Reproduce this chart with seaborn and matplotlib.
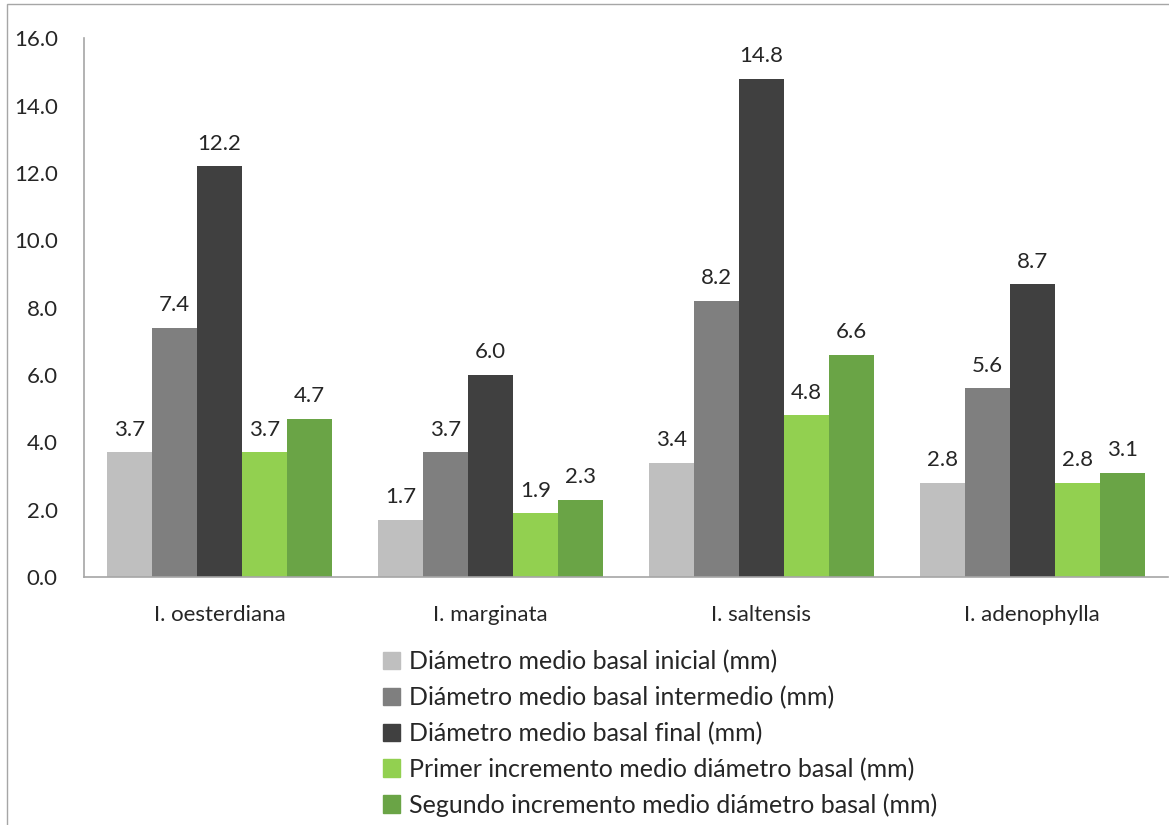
import pandas as pd
import matplotlib.pyplot as plt
import matplotlib.patches as mpatches
import seaborn as sns


# ---------------- DATA ----------------

species = ["I. oesterdiana", "I. marginata", "I. saltensis", "I. adenophylla"]

series_names = [
    "Diámetro medio basal inicial (mm)",
    "Diámetro medio basal intermedio (mm)",
    "Diámetro medio basal final (mm)",
    "Primer incremento medio diámetro basal (mm)",
    "Segundo incremento medio diámetro basal (mm)",
]

diam_inicial = [3.7, 1.7, 3.4, 2.8]
diam_intermedio = [7.4, 3.7, 8.2, 5.6]
diam_final = [12.2, 6.0, 14.8, 8.7]
primer_incremento = [3.7, 1.9, 4.8, 2.8]
segundo_incremento = [4.7, 2.3, 6.6, 3.1]

colors = ["#BFBFBF", "#7F7F7F", "#404040", "#92D050", "#6AA446"]


# ---------------- LONG TABLE ----------------

rows = []
for name, values in zip(series_names, [diam_inicial, diam_intermedio, diam_final,
                                       primer_incremento, segundo_incremento]):
    for sp, v in zip(species, values):
        rows.append({"especie": sp, "serie": name, "valor": v})
df = pd.DataFrame(rows)


# ---------------- PLOT ----------------

sns.set_style("white")
plt.rcParams["font.family"] = ["Lato", "DejaVu Sans"]

FS = 16

fig = plt.figure(figsize=(11.69, 8.25), dpi=100)
ax = fig.add_axes([0.072, 0.3006, 0.927, 0.653])

sns.barplot(data=df, x="especie", y="valor", hue="serie", order=species,
            hue_order=series_names, palette=colors, width=0.83, gap=0,
            saturation=1, ax=ax, legend=False, edgecolor="none")

for container in ax.containers:
    ax.bar_label(container, fmt="%.1f", padding=9, fontsize=FS)

ax.set_ylim(0, 16)
ax.set_yticks([0, 2, 4, 6, 8, 10, 12, 14, 16])
ax.set_yticklabels([f"{t:.1f}" for t in ax.get_yticks()], fontsize=FS)
ax.tick_params(axis="both", length=0, labelsize=FS)
ax.tick_params(axis="y", pad=19)
ax.tick_params(axis="x", pad=20)
ax.set_xlabel("")
ax.set_ylabel("")

for side in ["top", "right"]:
    ax.spines[side].set_visible(False)
for side in ["left", "bottom"]:
    ax.spines[side].set_color("#A6A6A6")
    ax.spines[side].set_linewidth(1.2)

# legend
handles = [mpatches.Patch(color=c, label=n) for c, n in zip(colors, series_names)]
fig.legend(handles=handles, loc="upper left", bbox_to_anchor=(0.319, 0.224),
           frameon=False, fontsize=18, handlelength=0.7, handleheight=0.7,
           handletextpad=0.35, labelspacing=0.5, borderaxespad=0)

# chart border
fig.patches.append(mpatches.Rectangle((0.006, -0.05), 1.1, 1.045, fill=False,
                                      edgecolor="#A6A6A6", linewidth=1,
                                      transform=fig.transFigure, figure=fig))

plt.savefig("out.png", dpi=100)
plt.close()
